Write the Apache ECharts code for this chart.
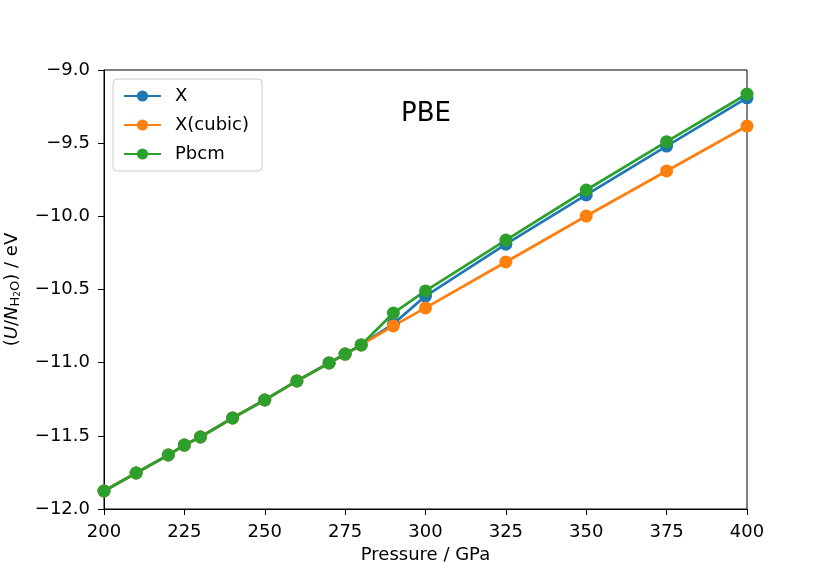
<!DOCTYPE html>
<html>
<head>
<meta charset="utf-8">
<script src="https://cdn.jsdelivr.net/npm/echarts@6/dist/echarts.min.js"></script>
<style>
  html, body { margin: 0; padding: 0; background: #fff; }
  #chart { width: 830px; height: 581px; }
</style>
</head>
<body>
<div id="chart"></div>
<script>
const pressure = [200, 210, 220, 225, 230, 240, 250, 260, 270, 275, 280, 290, 300, 325, 350, 375, 400];
const energyX = [-11.877, -11.754, -11.631, -11.563, -11.508, -11.378, -11.255, -11.125, -11.002, -10.941, -10.879, -10.735, -10.545, -10.19, -9.854, -9.52, -9.19];
const energyCubic = [-11.877, -11.754, -11.631, -11.563, -11.508, -11.378, -11.255, -11.125, -11.002, -10.941, -10.879, -10.749, -10.626, -10.312, -9.998, -9.69, -9.383];
const energyPbcm = [-11.877, -11.754, -11.631, -11.563, -11.508, -11.378, -11.255, -11.125, -11.002, -10.941, -10.879, -10.661, -10.51, -10.162, -9.82, -9.49, -9.164];

const fontFam = "DejaVu Sans";
const pairs = (ys) => pressure.map((p, i) => [p, ys[i]]);
const minus = (s) => s.replace("-", "\u2212");

const chart = echarts.init(document.getElementById("chart"));

function mkSeries(name, ys, color) {
  return {
    name: name,
    type: "line",
    data: pairs(ys),
    symbol: "circle",
    symbolSize: 13,
    color: color,
    lineStyle: { width: 2.7, color: color },
    itemStyle: { color: color },
    animation: false,
  };
}

chart.setOption({
  animation: false,
  grid: {
    left: 104, right: 83, top: 70, bottom: 72,
    outerBoundsMode: "none",
    containLabel: false,
    show: true, borderColor: "#000", borderWidth: 1,
  },
  title: {
    text: "PBE",
    left: 396, top: 96,
    textStyle: { fontFamily: fontFam, fontSize: 26, fontWeight: "normal", color: "#000" },
  },
  legend: {
    left: 113, top: 79,
    orient: "vertical",
    itemWidth: 37, itemHeight: 14, itemGap: 11,
    padding: [8, 13, 8, 10],
    borderColor: "#ccc", borderWidth: 1, borderRadius: 4,
    textStyle: { fontFamily: fontFam, fontSize: 18, color: "#000", padding: [0, 0, 0, 9] },
    data: ["X", "X(cubic)", "Pbcm"],
  },
  xAxis: {
    type: "value",
    min: 200, max: 400, interval: 25,
    name: "Pressure / GPa",
    nameLocation: "middle",
    nameGap: 37,
    nameTextStyle: { fontFamily: fontFam, fontSize: 18, color: "#000" },
    axisLine: { show: true, lineStyle: { color: "#000", width: 1 } },
    axisTick: { show: true, inside: false, length: 6, lineStyle: { color: "#000" } },
    axisLabel: { fontFamily: fontFam, fontSize: 18, color: "#000", margin: 14 },
    splitLine: { show: false },
  },
  yAxis: {
    type: "value",
    min: -12, max: -9, interval: 0.5,
    name: "({i|U}/{i|N}{sub|H}{sub2|2}{sub|O}) / eV",
    nameLocation: "middle",
    nameGap: 82,
    nameTextStyle: {
      fontFamily: fontFam, fontSize: 18, color: "#000",
      rich: {
        i: { fontFamily: fontFam, fontSize: 18, fontStyle: "italic", color: "#000" },
        sub: { fontFamily: fontFam, fontSize: 13, color: "#000", verticalAlign: "bottom", padding: [7, 0, 0, 0] },
        sub2: { fontFamily: fontFam, fontSize: 9, color: "#000", verticalAlign: "bottom", padding: [11, 0, 0, 0] },
      },
    },
    axisLine: { show: true, lineStyle: { color: "#000", width: 1 } },
    axisTick: { show: true, inside: false, length: 6, lineStyle: { color: "#000" } },
    axisLabel: {
      fontFamily: fontFam, fontSize: 18, color: "#000", margin: 14,
      formatter: (v) => minus(v.toFixed(1)),
    },
    splitLine: { show: false },
  },
  series: [
    mkSeries("X", energyX, "#1f77b4"),
    mkSeries("X(cubic)", energyCubic, "#ff7f0e"),
    mkSeries("Pbcm", energyPbcm, "#2ca02c"),
  ],
});
</script>
</body>
</html>
